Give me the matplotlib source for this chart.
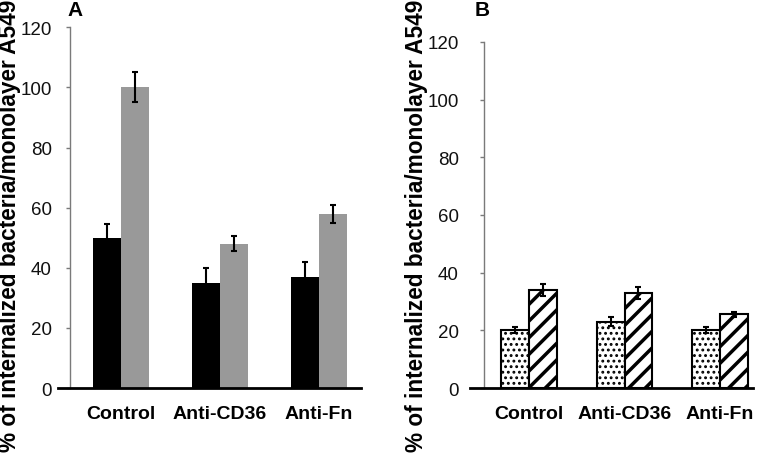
import matplotlib
matplotlib.use("Agg")
import matplotlib.pyplot as plt
import numpy as np

# --- data ---
groups = ["Control", "Anti-CD36", "Anti-Fn"]

a_dark = [50, 35, 37]
a_dark_err = [4.5, 5, 5]
a_gray = [100, 48, 58]
a_gray_err = [5, 2.5, 3]

b_dots = [20, 23, 20]
b_dots_err = [1, 1.5, 1]
b_hatch = [34, 33, 25.5]
b_hatch_err = [2, 2, 1]

yticks = [0, 20, 40, 60, 80, 100, 120]
ylabel = "% of internalized bacteria/monolayer A549"

plt.rcParams["font.family"] = ["Liberation Sans", "DejaVu Sans"]

W, H = 766, 456
fig = plt.figure(figsize=(W / 100, H / 100), dpi=100)


def make_axes(x0, x1, y_bot, y_top, spine_x, c0, step, pad):
    # place axes in pixel units, map group centres to pixel positions
    ax = fig.add_axes([x0 / W, 1 - y_bot / H, (x1 - x0) / W, (y_bot - y_top) / H])
    ax.set_xlim((x0 - c0) / step, (x1 - c0) / step)
    ax.set_ylim(0, 120)
    ax.spines["top"].set_visible(False)
    ax.spines["right"].set_visible(False)
    ax.spines["left"].set_position(("data", (spine_x - c0) / step))
    ax.spines["left"].set_color("#7a7a7a")
    ax.spines["left"].set_linewidth(1.0)
    ax.spines["bottom"].set_color("black")
    ax.spines["bottom"].set_linewidth(2.0)
    ax.set_yticks(yticks)
    ax.tick_params(axis="y", direction="out", length=3, width=1, color="#7a7a7a",
                   labelsize=13.5, pad=pad, labelcolor="#111111")
    ax.tick_params(axis="x", length=0, labelsize=14, pad=12)
    ax.set_xticks(np.arange(len(groups)))
    ax.set_xticklabels(groups, fontweight="bold")
    return ax


x = np.arange(len(groups))
ebar = dict(ecolor="black", capsize=2.5, elinewidth=1.5, capthick=1.5)

# --- panel A ---
axA = make_axes(58, 361, 389, 28.3, 70, 121, 99, 10)
wA = 0.283
axA.bar(x - wA / 2, a_dark, wA, color="black", yerr=a_dark_err, error_kw=ebar)
axA.bar(x + wA / 2, a_gray, wA, color="#999999", yerr=a_gray_err, error_kw=ebar)

# --- panel B ---
axB = make_axes(470, 753, 389, 43, 484, 529, 95.5, 15)
wB = 0.288
plt.rcParams["hatch.linewidth"] = 1.3
axB.bar(x - wB / 2, b_dots, wB, color="white", edgecolor="black", linewidth=1.5,
        hatch="...", yerr=b_dots_err, error_kw=ebar)
plt.rcParams["hatch.linewidth"] = 2.5
axB.bar(x + wB / 2, b_hatch, wB, color="white", edgecolor="black", linewidth=1.5,
        hatch="//", yerr=b_hatch_err, error_kw=ebar)

# y labels and panel letters
fig.text(10 / W, 1 - 226 / H, ylabel, rotation=90, ha="center", va="center",
         fontsize=16.3, fontweight="bold")
fig.text(417 / W, 1 - 226 / H, ylabel, rotation=90, ha="center", va="center",
         fontsize=16.3, fontweight="bold")
fig.text(75 / W, 1 - 11 / H, "A", ha="center", va="center", fontsize=15, fontweight="bold")
fig.text(482 / W, 1 - 11 / H, "B", ha="center", va="center", fontsize=15, fontweight="bold")

fig.savefig("out.png", dpi=100)
